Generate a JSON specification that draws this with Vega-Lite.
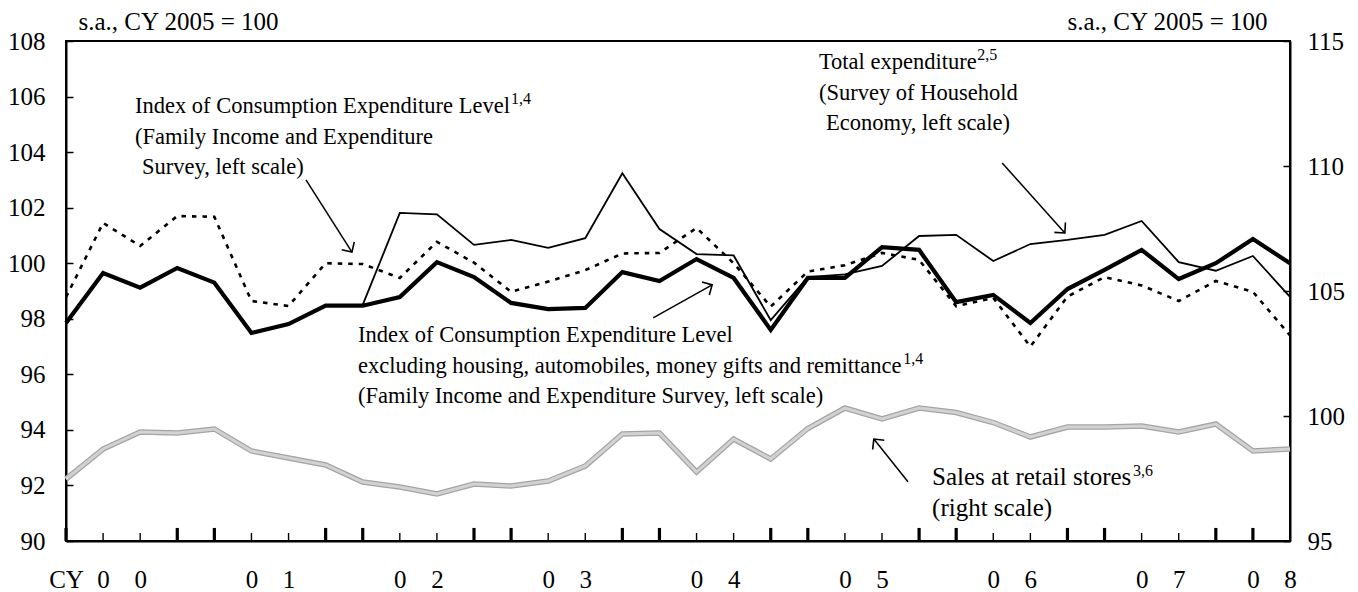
{
  "$schema": "https://vega.github.io/schema/vega-lite/v6.json",
  "width": 1224,
  "height": 500,
  "autosize": "none",
  "padding": {"left": 66, "top": 41, "right": 68, "bottom": 51},
  "background": "white",
  "config": {
    "font": "Liberation Serif",
    "view": {"stroke": "black", "strokeWidth": 2},
    "axis": {
      "grid": false,
      "domainColor": "black",
      "domainWidth": 2,
      "tickColor": "black",
      "labelColor": "black",
      "labelFont": "Liberation Serif",
      "labelFontSize": 25,
      "titleFont": "Liberation Serif",
      "titleFontSize": 25,
      "titleFontWeight": "normal",
      "titleColor": "black"
    }
  },
  "datasets": {
    "series": [
      {"q": 0, "iceEx": 97.85, "ice": 98.78, "total": null, "retail": 97.48},
      {"q": 1, "iceEx": 99.65, "ice": 101.45, "total": null, "retail": 98.68},
      {"q": 2, "iceEx": 99.12, "ice": 100.62, "total": null, "retail": 99.36},
      {"q": 3, "iceEx": 99.83, "ice": 101.7, "total": null, "retail": 99.32},
      {"q": 4, "iceEx": 99.3, "ice": 101.67, "total": null, "retail": 99.48},
      {"q": 5, "iceEx": 97.49, "ice": 98.64, "total": null, "retail": 98.6},
      {"q": 6, "iceEx": 97.81, "ice": 98.46, "total": null, "retail": 98.32},
      {"q": 7, "iceEx": 98.47, "ice": 100.0, "total": null, "retail": 98.04},
      {"q": 8, "iceEx": 98.47, "ice": 99.97, "total": 98.5, "retail": 97.36},
      {"q": 9, "iceEx": 98.78, "ice": 99.47, "total": 101.81, "retail": 97.16},
      {"q": 10, "iceEx": 100.04, "ice": 100.77, "total": 101.76, "retail": 96.88},
      {"q": 11, "iceEx": 99.5, "ice": 100.02, "total": 100.66, "retail": 97.28},
      {"q": 12, "iceEx": 98.57, "ice": 98.97, "total": 100.84, "retail": 97.2},
      {"q": 13, "iceEx": 98.35, "ice": 99.34, "total": 100.55, "retail": 97.4},
      {"q": 14, "iceEx": 98.39, "ice": 99.75, "total": 100.9, "retail": 98.0},
      {"q": 15, "iceEx": 99.68, "ice": 100.35, "total": 103.24, "retail": 99.28},
      {"q": 16, "iceEx": 99.36, "ice": 100.37, "total": 101.23, "retail": 99.32},
      {"q": 17, "iceEx": 100.15, "ice": 101.27, "total": 100.33, "retail": 97.76},
      {"q": 18, "iceEx": 99.47, "ice": 100.0, "total": 100.28, "retail": 99.08},
      {"q": 19, "iceEx": 97.6, "ice": 98.44, "total": 97.95, "retail": 98.28},
      {"q": 20, "iceEx": 99.47, "ice": 99.7, "total": 99.5, "retail": 99.5},
      {"q": 21, "iceEx": 99.47, "ice": 99.93, "total": 99.6, "retail": 100.32},
      {"q": 22, "iceEx": 100.58, "ice": 100.37, "total": 99.9, "retail": 99.88},
      {"q": 23, "iceEx": 100.48, "ice": 100.12, "total": 100.98, "retail": 100.32},
      {"q": 24, "iceEx": 98.6, "ice": 98.45, "total": 101.02, "retail": 100.14},
      {"q": 25, "iceEx": 98.86, "ice": 98.75, "total": 100.08, "retail": 99.74},
      {"q": 26, "iceEx": 97.85, "ice": 97.0, "total": 100.69, "retail": 99.16},
      {"q": 27, "iceEx": 99.07, "ice": 98.8, "total": 100.84, "retail": 99.56},
      {"q": 28, "iceEx": 99.76, "ice": 99.5, "total": 101.02, "retail": 99.56},
      {"q": 29, "iceEx": 100.48, "ice": 99.2, "total": 101.52, "retail": 99.6},
      {"q": 30, "iceEx": 99.43, "ice": 98.64, "total": 100.04, "retail": 99.36},
      {"q": 31, "iceEx": 100.0, "ice": 99.36, "total": 99.73, "retail": 99.68},
      {"q": 32, "iceEx": 100.87, "ice": 98.97, "total": 100.26, "retail": 98.6},
      {"q": 33, "iceEx": 100.0, "ice": 97.4, "total": 98.79, "retail": 98.68}
    ],
    "notes": [
      {"q": 1.86, "v": 105.397, "lines": ["Index of Consumption Expenditure Level", "(Family Income and Expenditure"]},
      {"q": 2.05, "v": 103.2, "lines": ["Survey, left scale)"]},
      {"q": 20.3, "v": 106.992, "lines": ["Total expenditure", "(Survey of Household"]},
      {"q": 20.49, "v": 104.796, "lines": ["Economy, left scale)"]},
      {"q": 7.87, "v": 97.165, "lines": ["Index of Consumption Expenditure Level", "excluding housing, automobiles, money gifts and remittance", "(Family Income and Expenditure Survey, left scale)"]}
    ],
    "notes2": [
      {"q": 23.35, "v": 92.02, "lines": ["Sales at retail stores", "(right scale)"]}
    ],
    "sups": [
      {"q": 12.0, "v": 105.73, "s": "1,4"},
      {"q": 24.57, "v": 107.32, "s": "2,5"},
      {"q": 22.57, "v": 96.37, "s": "1,4"},
      {"q": 28.77, "v": 92.34, "s": "3,6"}
    ],
    "arrows": [
      {"q": 7.71, "v": 100.4, "q2": 6.47, "v2": 103.0},
      {"q": 26.93, "v": 101.09, "q2": 25.24, "v2": 103.61},
      {"q": 17.42, "v": 99.22, "q2": 15.83, "v2": 98.03},
      {"q": 21.78, "v": 93.67, "q2": 22.7, "v2": 92.13}
    ]
  },
  "layer": [
    {
      "encoding": {
        "x": {
          "field": "q", "type": "quantitative",
          "scale": {"domain": [0, 33], "nice": false, "zero": false},
          "axis": {
            "values": [0,1,2,3,4,5,6,7,8,9,10,11,12,13,14,15,16,17,18,19,20,21,22,23,24,25,26,27,28,29,30,31,32,33],
            "title": null,
            "labelExpr": "datum.value==0?'CY':datum.value==32?'0':datum.value==33?'8':(datum.value%4==1)?'0':(datum.value%4==2)?''+floor(datum.value/4):''",
            "labelFlush": false,
            "labelOverlap": false,
            "labelAlign": "center",
            "labelBaseline": "top",
            "ticks": false,
            "labelPadding": 26
          }
        }
      },
      "layer": [
        {
          "data": {"name": "series"},
          "mark": {"type": "line", "stroke": "black", "strokeWidth": 2.6, "strokeDash": [4.5, 6]},
          "encoding": {
            "y": {
              "field": "ice", "type": "quantitative",
              "scale": {"domain": [90, 108], "nice": false, "zero": false},
              "axis": {
                "values": [90,92,94,96,98,100,102,104,106,108],
                "title": "s.a., CY 2005 = 100",
                "titleAngle": 0,
                "titleAlign": "left",
                "titleBaseline": "alphabetic",
                "titleX": 12,
                "titleY": -11.5,
                "tickSize": -7,
                "tickWidth": 1.5,
                "labelPadding": 28
              }
            }
          }
        },
        {
          "data": {"name": "series"},
          "mark": {"type": "line", "stroke": "black", "strokeWidth": 1.8},
          "encoding": {
            "y": {"field": "total", "type": "quantitative", "scale": {"domain": [90, 108], "nice": false, "zero": false}}
          }
        },
        {
          "data": {"name": "series"},
          "mark": {"type": "line", "stroke": "black", "strokeWidth": 4.2},
          "encoding": {
            "y": {"field": "iceEx", "type": "quantitative", "scale": {"domain": [90, 108], "nice": false, "zero": false}}
          }
        },
        {
          "data": {"name": "series"},
          "transform": [{"filter": "datum.q%4==1||datum.q%4==2"}],
          "mark": {"type": "rule", "stroke": "black", "strokeWidth": 1.4},
          "encoding": {
            "y": {"datum": 90, "type": "quantitative", "scale": {"domain": [90, 108], "nice": false, "zero": false}},
            "y2": {"datum": 90.29}
          }
        },
        {
          "data": {"name": "series"},
          "transform": [{"filter": "datum.q%4==0||datum.q%4==3"}],
          "mark": {"type": "rule", "stroke": "black", "strokeWidth": 3.2},
          "encoding": {
            "y": {"datum": 90, "type": "quantitative", "scale": {"domain": [90, 108], "nice": false, "zero": false}},
            "y2": {"datum": 90.47}
          }
        },
        {
          "data": {"name": "notes"},
          "mark": {"type": "text", "align": "left", "baseline": "alphabetic", "fontSize": 22.5, "lineHeight": 30.7, "fill": "black", "font": "Liberation Serif"},
          "encoding": {
            "y": {"field": "v", "type": "quantitative", "scale": {"domain": [90, 108], "nice": false, "zero": false}},
            "text": {"field": "lines", "type": "nominal"}
          }
        },
        {
          "data": {"name": "notes2"},
          "mark": {"type": "text", "align": "left", "baseline": "alphabetic", "fontSize": 25, "lineHeight": 31, "fill": "black", "font": "Liberation Serif"},
          "encoding": {
            "y": {"field": "v", "type": "quantitative", "scale": {"domain": [90, 108], "nice": false, "zero": false}},
            "text": {"field": "lines", "type": "nominal"}
          }
        },
        {
          "data": {"name": "sups"},
          "mark": {"type": "text", "align": "left", "baseline": "alphabetic", "fontSize": 16, "fill": "black", "font": "Liberation Serif"},
          "encoding": {
            "y": {"field": "v", "type": "quantitative", "scale": {"domain": [90, 108], "nice": false, "zero": false}},
            "text": {"field": "s", "type": "nominal"}
          }
        },
        {
          "data": {"name": "arrows"},
          "mark": {"type": "rule", "stroke": "black", "strokeWidth": 1.5},
          "encoding": {
            "y": {"field": "v", "type": "quantitative", "scale": {"domain": [90, 108], "nice": false, "zero": false}},
            "x2": {"field": "q2"},
            "y2": {"field": "v2"}
          }
        },
        {
          "data": {"name": "arrows"},
          "mark": {"type": "point", "shape": "M -1 1 L 0 0 L 1 1", "filled": false, "stroke": "black", "strokeWidth": 1.6, "opacity": 1, "size": 220,
                   "angle": {"expr": "atan2((datum.q-datum.q2)*37.09, (datum.v-datum.v2)*27.78)*180/PI"}},
          "encoding": {
            "y": {"field": "v", "type": "quantitative", "scale": {"domain": [90, 108], "nice": false, "zero": false}}
          }
        }
      ]
    },
    {
      "data": {"name": "series"},
      "encoding": {
        "x": {
          "field": "q", "type": "quantitative",
          "scale": {"domain": [0, 33], "nice": false, "zero": false},
          "axis": null
        },
        "y": {
          "field": "retail", "type": "quantitative",
          "scale": {"domain": [95, 115], "nice": false, "zero": false},
          "axis": {
            "orient": "right",
            "values": [95, 100, 105, 110, 115],
            "title": "s.a., CY 2005 = 100",
            "titleAngle": 0,
            "titleAlign": "right",
            "titleBaseline": "alphabetic",
            "titleX": -23,
            "titleY": -11.5,
            "tickSize": -7,
            "tickWidth": 1.5,
            "labelPadding": 24
          }
        }
      },
      "layer": [
        {"mark": {"type": "line", "stroke": "#a4a4a4", "strokeWidth": 5.5}},
        {"mark": {"type": "line", "stroke": "#d2d2d2", "strokeWidth": 3}}
      ]
    }
  ],
  "resolve": {"scale": {"y": "independent"}, "axis": {"x": "independent"}}
}
